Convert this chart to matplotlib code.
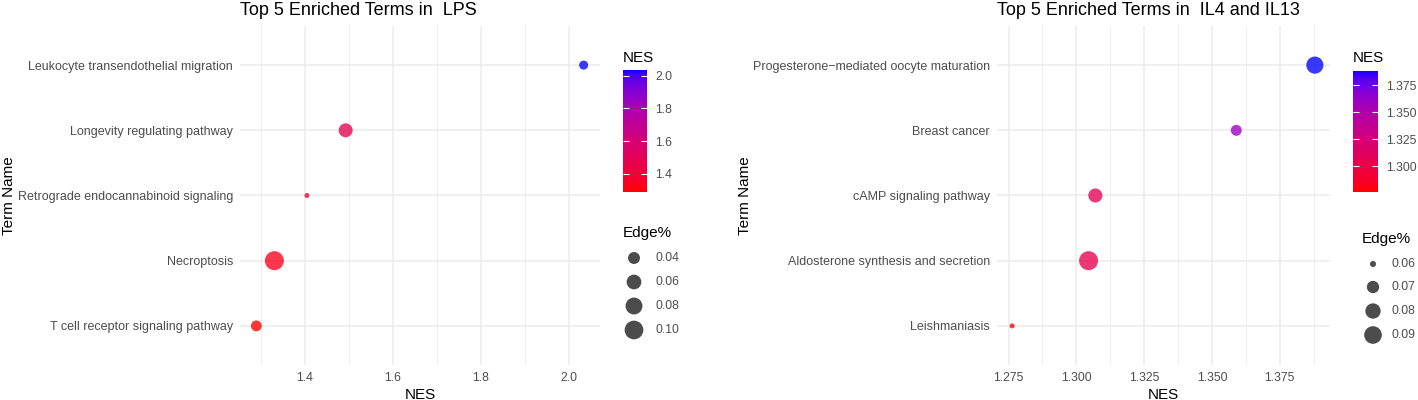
import numpy as np
import matplotlib
matplotlib.use("Agg")
import matplotlib.pyplot as plt
from matplotlib.colors import ListedColormap

plt.rcParams['font.family'] = ['Liberation Sans', 'DejaVu Sans']

# ---- data ----
lps_terms = ['Leukocyte transendothelial migration', 'Longevity regulating pathway',
             'Retrograde endocannabinoid signaling', 'Necroptosis',
             'T cell receptor signaling pathway']
lps_nes = [2.034, 1.493, 1.405, 1.331, 1.290]
lps_edge = [0.026, 0.054, 0.019, 0.1037, 0.034]
lps_nes_breaks = [1.4, 1.6, 1.8, 2.0]
lps_edge_breaks = [0.04, 0.06, 0.08, 0.10]

il_terms = ['Progesterone\u2212mediated oocyte maturation', 'Breast cancer',
            'cAMP signaling pathway', 'Aldosterone synthesis and secretion',
            'Leishmaniasis']
il_nes = [1.388, 1.359, 1.307, 1.3045, 1.2763]
il_edge = [0.0878, 0.0666, 0.0754, 0.097, 0.0598]
il_nes_breaks = [1.275, 1.300, 1.325, 1.350, 1.375]
il_cbar_breaks = [1.300, 1.325, 1.350, 1.375]
il_edge_breaks = [0.06, 0.07, 0.08, 0.09]

W, H = 1418, 400


# red -> blue gradient interpolated in CIELAB (like ggplot's scale_colour_gradient)
def srgb_to_lab(rgb):
    c = np.asarray(rgb, float)
    lin = np.where(c <= 0.04045, c / 12.92, ((c + 0.055) / 1.055) ** 2.4)
    M = np.array([[0.4124, 0.3576, 0.1805], [0.2126, 0.7152, 0.0722], [0.0193, 0.1192, 0.9505]])
    xyz = M @ lin / np.array([0.95047, 1.0, 1.08883])
    f = np.where(xyz > 0.008856, np.cbrt(xyz), 7.787 * xyz + 16 / 116)
    return np.array([116 * f[1] - 16, 500 * (f[0] - f[1]), 200 * (f[1] - f[2])])


def lab_to_srgb(lab):
    L, a, b = lab
    fy = (L + 16) / 116
    f = np.array([fy + a / 500, fy, fy - b / 200])
    xyz = np.where(f ** 3 > 0.008856, f ** 3, (f - 16 / 116) / 7.787) * np.array([0.95047, 1.0, 1.08883])
    Minv = np.array([[3.2406, -1.5372, -0.4986], [-0.9689, 1.8758, 0.0415], [0.0557, -0.2040, 1.0570]])
    lin = Minv @ xyz
    c = np.where(lin <= 0.0031308, 12.92 * lin, 1.055 * np.clip(lin, 0, None) ** (1 / 2.4) - 0.055)
    return np.clip(c, 0, 1)


lab_lo = srgb_to_lab([1, 0, 0])
lab_hi = srgb_to_lab([0, 0, 1])
cmap = ListedColormap([lab_to_srgb(lab_lo + (lab_hi - lab_lo) * t) for t in np.linspace(0, 1, 256)])


def diam_px(v, lo, hi):
    # area-style size scale
    return 5 + 14 * np.sqrt((np.asarray(v) - lo) / (hi - lo))


def s_of(d):
    return (d * 72 / 100) ** 2


fig = plt.figure(figsize=(W / 100, H / 100), dpi=100)
over = fig.add_axes([0, 0, 1, 1])
over.set_xlim(0, W)
over.set_ylim(H, 0)
over.axis('off')


def panel(rect, terms, nes, edge, title, nes_breaks, fmt, cbar_breaks, edge_breaks, cbar_rect,
          leg, ylab_x):
    ax = fig.add_axes([rect[0] / W, 1 - rect[3] / H, (rect[2] - rect[0]) / W, (rect[3] - rect[1]) / H])
    n = len(terms)
    y = np.arange(n, 0, -1)
    lo, hi = min(nes), max(nes)
    elo, ehi = min(edge), max(edge)
    ax.scatter(nes, y, s=s_of(diam_px(edge, elo, ehi)), c=nes, cmap=cmap, vmin=lo, vmax=hi,
               alpha=0.78, linewidths=0, zorder=3)
    step = nes_breaks[1] - nes_breaks[0]
    ax.set_xticks(nes_breaks)
    ax.set_xticklabels([fmt % b for b in nes_breaks], color='#4D4D4D', fontsize=8.8)
    ax.set_xticks(np.arange(nes_breaks[0] - step * 1.5, nes_breaks[-1] + step, step), minor=True)
    pad = (hi - lo) * 0.05
    ax.set_xlim(lo - pad, hi + pad)
    ax.set_ylim(0.4, n + 0.6)
    ax.set_yticks(y)
    ax.set_yticklabels(terms, color='#4D4D4D', fontsize=9)
    ax.tick_params(length=0, which='both')
    ax.tick_params(axis='x', pad=5)
    ax.tick_params(axis='y', pad=5)
    ax.grid(True, which='major', color='#EBEBEB', linewidth=1.1)
    ax.grid(True, which='minor', axis='x', color='#EBEBEB', linewidth=0.6)
    ax.set_axisbelow(True)
    for sp in ax.spines.values():
        sp.set_visible(False)
    ax.set_xlabel('NES', fontsize=11, labelpad=3)
    ax.set_ylabel('Term Name', fontsize=11)
    ax.yaxis.set_label_coords((ylab_x - rect[0]) / (rect[2] - rect[0]), 0.5)
    ax.text(0, 1 + 11 / (rect[3] - rect[1]), title, transform=ax.transAxes,
            fontsize=13, ha='left', va='baseline')

    # colour bar
    cx0, cy0, cx1, cy1 = cbar_rect
    cax = fig.add_axes([cx0 / W, 1 - cy1 / H, (cx1 - cx0) / W, (cy1 - cy0) / H])
    grad = np.linspace(lo, hi, 256).reshape(-1, 1)
    cax.imshow(grad, cmap=cmap, vmin=lo, vmax=hi, aspect='auto', origin='lower',
               extent=[0, 1, lo, hi])
    cax.set_xlim(0, 1)
    cax.set_yticks(cbar_breaks)
    cax.set_yticklabels([fmt % b for b in cbar_breaks], fontsize=8.8, color='#4D4D4D')
    cax.set_ylim(lo, hi)
    cax.set_xticks([])
    cax.yaxis.tick_right()
    cax.tick_params(axis='y', direction='in', left=True, right=True, color='white',
                    length=4, width=0.8, pad=6)
    for sp in cax.spines.values():
        sp.set_visible(False)
    over.text(cx0, leg['nes_title_y'], 'NES', fontsize=11, ha='left', va='baseline')

    # size legend
    over.text(leg['edge_x'], leg['edge_title_y'], 'Edge%', fontsize=11, ha='left', va='baseline')
    d = diam_px(edge_breaks, elo, ehi)
    over.scatter([leg['dot_x']] * len(edge_breaks), leg['item_y'], s=s_of(d), color='black',
                 alpha=0.7, linewidths=0)
    for yy, b in zip(leg['item_y'], edge_breaks):
        over.text(leg['lab_x'], yy, '%.2f' % b, fontsize=8.8, color='#4D4D4D', ha='left', va='center')
    return ax


panel((240, 26, 600, 365), lps_terms, lps_nes, lps_edge, 'Top 5 Enriched Terms in  LPS',
      lps_nes_breaks, '%.1f', lps_nes_breaks, lps_edge_breaks, (623, 70, 647, 192),
      dict(nes_title_y=62, edge_x=623, edge_title_y=237, dot_x=634,
           item_y=[258, 282, 306, 330], lab_x=655), 16)

panel((997, 26, 1330, 365), il_terms, il_nes, il_edge, 'Top 5 Enriched Terms in  IL4 and IL13',
      il_nes_breaks, '%.3f', il_cbar_breaks, il_edge_breaks, (1353, 71, 1378, 192),
      dict(nes_title_y=62, edge_x=1362, edge_title_y=243, dot_x=1373,
           item_y=[264, 287, 311, 335], lab_x=1392), 752)

fig.savefig('out.png', dpi=100)
